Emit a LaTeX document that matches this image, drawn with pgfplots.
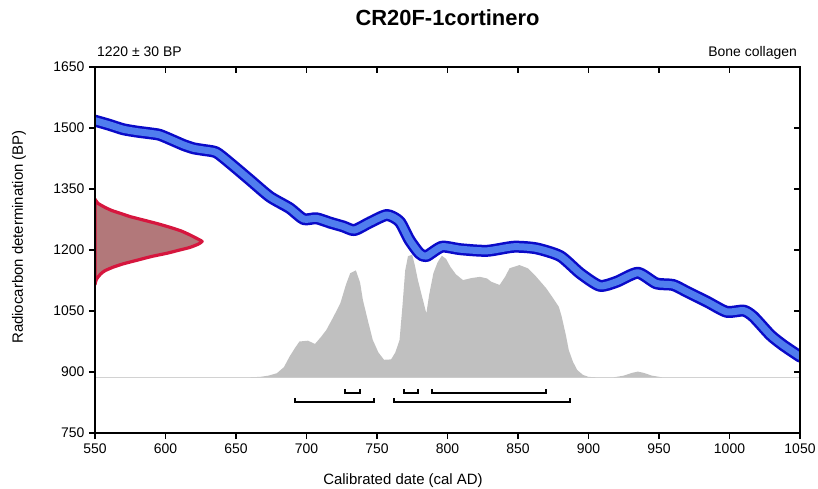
\documentclass[border=0pt]{standalone}
\usepackage{fontspec}
\setmainfont{Liberation Sans}
\usepackage{pgfplots}
\pgfplotsset{compat=1.18}
\definecolor{bluedark}{RGB}{10,10,200}
\definecolor{bluelight}{RGB}{80,125,238}
\definecolor{redline}{RGB}{214,22,62}
\definecolor{redfill}{RGB}{178,120,122}
\definecolor{grayfill}{RGB}{192,192,192}
\begin{document}
\begin{tikzpicture}
\useasboundingbox (-95bp,-56bp) rectangle (723bp,433bp);
\begin{axis}[
  scale only axis, width=705bp, height=366bp,
  xmin=550, xmax=1050, ymin=750, ymax=1650,
  xtick={550,600,...,1050}, ytick={750,900,...,1650},
  xtick pos=left, ytick pos=left, tick align=outside,
  major tick length=6bp,
  every tick/.style={black, line width=1.4bp},
  axis line style={black, line width=1.6bp},
  /pgf/number format/assume math mode=true,
  /pgf/number format/1000 sep={},
  ticklabel style={font=\fontsize{14}{16}\selectfont},
  xticklabel style={yshift=-1bp},
  yticklabel style={xshift=-1bp},
]
% baseline of posterior
\addplot[gray!35, line width=0.8bp] coordinates {(550,887) (1050,887)};
% calibrated distribution
\addplot[fill=grayfill, draw=none] coordinates {
(660,887) (667,888) (673,891) (679,897) (684,912) (688,938) (692,960) (695,975)
(701,977) (706,969) (710,985) (714,1003) (719,1035) (724,1069) (728,1115) (731,1143)
(735,1150) (738,1120) (740,1077) (744,1020) (747,979) (751,948) (755,930) (760,931)
(763,948) (766,979) (768,1060) (770,1150) (772,1185) (775,1188) (777,1160) (779,1126)
(782,1085) (785,1044) (787,1090) (790,1143) (793,1170) (796,1186) (799,1178) (802,1159)
(806,1140) (811,1126) (817,1131) (823,1134) (828,1130) (831,1122) (837,1114) (841,1135)
(844,1155) (851,1163) (857,1155) (862,1138) (866,1122) (870,1106) (875,1081) (879,1060)
(881,1036) (884,990) (886,954) (889,925) (892,905) (896,893) (900,888) (905,887)};
\addplot[fill=grayfill, draw=none] coordinates {
(918,887) (925,891) (931,898) (935,901) (939,898) (945,891) (952,887)};
% calibration curve
\addplot[bluedark, line width=12bp, line join=round, line cap=round, smooth, tension=0.4] coordinates {
(550,1518) (560,1508) (570,1497) (580,1491) (589,1487) (596,1483) (605,1470) (613,1458)
(620,1450) (627,1446) (636,1440) (646,1413) (660,1372) (674,1331) (688,1303) (698,1276)
(707,1278) (717,1267) (726,1258) (734,1249) (745,1268) (757,1286) (766,1270) (773,1225)
(780,1192) (785,1185) (796,1208) (809,1202) (828,1198) (847,1208) (863,1204) (880,1185)
(894,1143) (908,1112) (920,1122) (935,1144) (948,1118) (960,1114) (970,1097) (984,1073)
(998,1048) (1010,1051) (1017,1036) (1029,991) (1038,966) (1050,938)};
\addplot[bluelight, line width=7bp, line join=round, line cap=round, smooth, tension=0.4] coordinates {
(550,1518) (560,1508) (570,1497) (580,1491) (589,1487) (596,1483) (605,1470) (613,1458)
(620,1450) (627,1446) (636,1440) (646,1413) (660,1372) (674,1331) (688,1303) (698,1276)
(707,1278) (717,1267) (726,1258) (734,1249) (745,1268) (757,1286) (766,1270) (773,1225)
(780,1192) (785,1185) (796,1208) (809,1202) (828,1198) (847,1208) (863,1204) (880,1185)
(894,1143) (908,1112) (920,1122) (935,1144) (948,1118) (960,1114) (970,1097) (984,1073)
(998,1048) (1010,1051) (1017,1036) (1029,991) (1038,966) (1050,938)};
% radiocarbon determination
\addplot[fill=redfill, draw=redline, line width=3.2bp, line join=round, smooth, tension=0.3] coordinates {
(550,1325) (552,1315) (557,1305) (562,1297) (569,1289) (575,1282) (584,1274) (594,1265)
(603,1256) (611,1247) (618,1236) (623,1227) (626,1221) (623,1214) (617,1206) (609,1199)
(601,1192) (590,1184) (580,1175) (570,1166) (563,1158) (557,1149) (554,1141) (551,1128) (550,1115)} -- cycle;
% ranges
\addplot[black, line width=2bp] coordinates {(727,857) (727,848) (738,848) (738,857)};
\addplot[black, line width=2bp] coordinates {(769,857) (769,848) (779,848) (779,857)};
\addplot[black, line width=2bp] coordinates {(789,857) (789,848) (870,848) (870,857)};
\addplot[black, line width=2bp] coordinates {(692,835) (692,826) (748,826) (748,835)};
\addplot[black, line width=2bp] coordinates {(762,835) (762,826) (887,826) (887,835)};
\end{axis}
\begin{axis}[
  scale only axis, width=705bp, height=366bp,
  xmin=550, xmax=1050, ymin=750, ymax=1650,
  xtick={550,600,...,1050}, ytick={750,900,...,1650},
  xtick pos=right, ytick pos=right, tick align=inside,
  major tick length=6bp,
  every tick/.style={black, line width=1.4bp},
  axis line style={black, line width=1.6bp},
  xticklabels={}, yticklabels={},
]
\end{axis}
\node[font=\fontsize{22}{26}\selectfont\bfseries, anchor=base] at (352.5bp,407bp) {CR20F-1cortinero};
\node[font=\fontsize{14}{16}\selectfont, anchor=base west, inner sep=0pt] at (2bp,376bp) {1220 ± 30 BP};
\node[font=\fontsize{14}{16}\selectfont, anchor=base east, inner sep=0pt] at (702bp,376bp) {Bone collagen};
\node[font=\fontsize{15}{18}\selectfont, anchor=base, inner sep=0pt] at (308bp,-51bp) {Calibrated date (cal AD)};
\node[font=\fontsize{15}{18}\selectfont, rotate=90, anchor=base, inner sep=0pt] at (-72bp,196bp) {Radiocarbon determination (BP)};
\end{tikzpicture}
\end{document}
